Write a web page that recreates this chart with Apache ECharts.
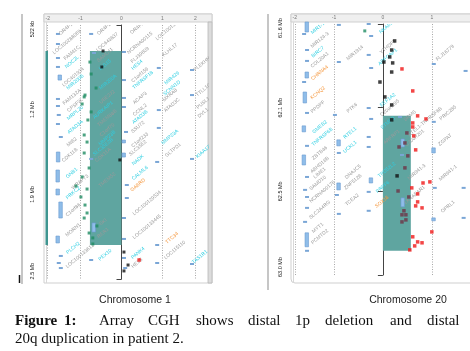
<!DOCTYPE html>
<html><head><meta charset="utf-8">
<script src="https://cdn.jsdelivr.net/npm/echarts@6/dist/echarts.min.js"></script>
<style>html,body{margin:0;padding:0;background:#fff}#c{width:470px;height:351px}</style>
</head><body><div id="c"></div>
<script>
// ---------- axis ticks ----------
const chr1PosTicks = [0.522, 1.194, 1.866, 2.538];
const chr1PosLabels = ['522 kb', '1.2 Mb', '1.9 Mb', '2.5 Mb'];
const chr20PosTicks = [61.6, 62.06, 62.52, 62.98];
const chr20PosLabels = ['61.6 Mb', '62.1 Mb', '62.5 Mb', '63.0 Mb'];
const chr1RatioTicks = [-1.8, -1, 0, 1, 1.8];
const chr1RatioLabels = ['-2', '-1', '0', '1', '2'];
const chr20RatioTicks = [-1.8, -1, 0, 1];
const chr20RatioLabels = ['-2', '-1', '0', '1'];

// ---------- chromosome 1 probes [log2 ratio, Mb] ----------
const chr1Green = [[-0.77,0.816],[-0.74,0.911],[-0.62,1.022],[-0.89,1.078],[-0.91,1.093],[-0.96,1.149],[-0.74,1.212],[-0.82,1.276],[-0.91,1.395],[-0.84,1.451],[-0.91,1.538],[-0.79,1.657],[-0.96,1.728],[-1.11,1.800],[-0.84,1.824],[-0.99,1.887],[-0.89,1.951],[-0.84,2.014],[-0.91,2.054],[-0.60,2.117],[-0.79,2.173],[-0.70,2.212],[-0.70,2.260]];
const chr1Black = [[-0.45,0.728],[-0.48,0.855],[-0.04,1.593],[0.06,2.324],[0.16,2.427],[0.06,2.474]];
const chr1Red = [[0.43,2.387]];
// segments [ratio from, ratio to, Mb start, Mb end]
const chr1Segments = [[-0.77,0,0.728,2.268]];
const chr1Track = [[-1.854,-1.793,0.728,2.268]];
const chr1Cursor = [1.528];
// gene bars [lane, Mb start, Mb end]
const chr1GeneBars = [[-1.55,0.593,0.593],[-1.55,0.673,0.673],[-1.55,0.784,0.784],[-1.55,0.855,0.855],[-1.50,0.919,0.959],[-1.55,1.109,1.109],[-1.55,1.165,1.165],[-1.53,1.236,1.236],[-1.55,1.308,1.308],[-1.48,1.411,1.411],[-1.54,1.530,1.609],[-1.55,1.673,1.768],[-1.55,1.824,1.871],[-1.48,1.927,2.054],[-1.55,2.197,2.252],[-1.48,2.355,2.355],[-1.53,2.411,2.411],[-1.48,2.451,2.451],
 [-0.74,0.593,0.593],[-0.67,0.744,0.744],[-0.74,1.585,1.585],[-0.67,2.093,2.165],[-0.74,2.387,2.387],
 [0.06,0.736,0.736],[0.06,0.959,0.959],[0.06,1.101,1.101],[0.06,1.173,1.173],[0.11,1.371,1.371],[0.06,1.435,1.458],[0.06,1.538,1.570],[0.13,1.792,1.792],[0.13,1.895,1.895],[0.06,2.054,2.054],[0.06,2.220,2.220],[0.06,2.371,2.371],[0.09,2.451,2.451],
 [0.91,0.863,0.863],[0.91,1.197,1.197],[0.91,1.339,1.339],[0.87,1.609,1.609],[0.87,2.268,2.268],[0.87,2.411,2.411],
 [1.72,0.879,0.879],[1.72,1.078,1.078],[1.72,1.585,1.585],[1.72,2.419,2.419]];
// gene labels
const chr1GeneNames = ['OR4F16','LOC100288069','FAM41C','NOC2L','LOC401934','MIR200B','FAM132A','CPSF3L','MRPL20','ATAD3A','MIB2','CDK11B','GNB1','WRAP73','PRKCZ','C1orf86','MORN1','PLCH2','LOC100133612',
 'OR4F29','LOC643837','SAMD11','ISG15','MIR200A','UBE2J2','AURKAIP1','TMEM88B','C1orf70','MMP23B','SLC35E2B','CDK11A','TMEM52','SKI','RER1','PEX10',
 'OR4F5','NCRNA00115','FLJ39609','HES4','C1orf159','TNFRSF18','ACAP3','CCNL2','ATAD3B','SSU72','C1orf233','SLC35E2','NADK','CALML6','GABRD','LOC100129534','LOC100133445','PANK4','HES5',
 'LOC100132062','KLHL17','MIR429','SCNN1D','MXRA8','ATAD3C','MMP23A','GLTPD1','TTC34','LOC115110',
 'PLEKHN1','TTLL10','PUSL1','DVL1','KIAA1751','TAS1R1'];
const chr1GeneLane = [-1.33,-1.33,-1.21,-1.21,-1.18,-1.13,-1.21,-1.13,-1.13,-1.13,-1.21,-1.26,-1.21,-1.01,-1.18,-1.18,-1.18,-1.18,-1.01,
 -0.40,-0.35,-0.40,-0.40,-0.33,-0.35,-0.45,-0.35,-0.35,-0.35,-0.45,-0.45,-0.35,-0.45,-0.45,-0.40,
 0.38,0.45,0.45,0.38,0.45,0.52,0.45,0.45,0.45,0.40,0.45,0.40,0.40,0.45,0.40,0.62,0.62,0.40,0.38,
 1.18,1.18,1.23,1.23,1.18,1.23,1.18,1.26,1.23,1.30,
 1.99,1.99,1.99,1.99,2.04,1.91];
const chr1GeneMb = [0.546,0.657,0.744,0.816,0.935,0.974,1.093,1.157,1.220,1.332,1.451,1.554,1.697,1.768,1.855,1.990,2.149,2.292,2.355,
 0.546,0.657,0.760,0.839,0.974,1.093,1.197,1.260,1.355,1.419,1.490,1.554,1.752,2.085,2.173,2.347,
 0.546,0.665,0.760,0.839,0.919,0.959,1.101,1.197,1.252,1.332,1.435,1.498,1.593,1.697,1.792,1.935,2.125,2.332,2.411,
 0.546,0.720,0.943,1.022,1.078,1.157,1.411,1.514,2.212,2.308,
 0.824,1.038,1.141,1.220,1.514,2.363];
const chr1GeneKind = [0,0,0,1,0,1,0,0,1,1,0,0,1,0,1,0,0,1,0,
 0,0,0,1,1,0,1,0,0,1,1,0,0,0,0,1,
 0,0,0,1,0,1,0,0,1,0,0,0,1,1,2,0,0,1,0,
 0,0,1,1,0,0,1,0,2,0,
 0,0,0,0,1,1];

// ---------- chromosome 20 probes ----------
const chr20Black = [[0.18,61.595],[0.24,61.693],[0.18,61.743],[0.14,61.781],[0.02,61.809],[0.20,61.814],[0.18,61.864],[-0.06,61.919],[0.04,62.001],[0.18,62.045],[0.18,62.127],[0.29,62.435]];
const chr20Green = [[-0.37,61.638]];
const chr20Red = [[0.39,61.847],[0.61,61.968],[0.71,62.105],[0.88,62.122],[0.61,62.144],[0.61,62.166],[0.63,62.215],[0.67,62.292],[0.82,62.474],[0.96,62.468],[0.59,62.501],[0.71,62.534],[0.71,62.578],[0.67,62.600],[0.80,62.611],[1.00,62.743],[0.61,62.770],[0.71,62.798],[0.80,62.803],[0.65,62.820],[0.55,62.842]];
const chr20Gain = [[0.49,62.199],[0.45,62.254],[0.33,62.276],[0.51,62.325],[0.45,62.391],[0.31,62.518],[0.53,62.551],[0.43,62.627],[0.39,62.649],[0.47,62.649],[0.47,62.677],[0.39,62.688]];
const chr20Segments = [[0,0.571,62.105,62.847]];
const chr20Cursor = [62.284];
const chr20GeneBars = [[-1.55,61.589,61.644],[-1.61,61.655,61.655],[-1.55,61.743,61.743],[-1.55,61.803,61.803],[-1.55,61.864,61.897],[-1.61,61.919,61.919],[-1.59,61.974,62.034],[-1.55,62.089,62.089],[-1.61,62.160,62.193],[-1.55,62.270,62.270],[-1.61,62.320,62.375],[-1.55,62.441,62.441],[-1.59,62.512,62.512],[-1.55,62.551,62.551],[-1.55,62.611,62.611],[-1.59,62.688,62.688],[-1.55,62.748,62.825],[-1.55,62.847,62.847],
 [-0.90,61.605,61.605],[-0.90,61.809,61.809],[-0.98,62.100,62.100],[-0.90,62.237,62.270],[-0.90,62.309,62.309],[-0.90,62.474,62.512],[-0.94,62.540,62.540],[-0.90,62.644,62.644],
 [-0.29,61.600,61.600],[-0.24,61.666,61.666],[-0.29,61.770,61.770],[-0.24,61.842,61.842],[-0.29,62.062,62.062],[-0.24,62.122,62.122],[-0.29,62.221,62.221],[-0.29,62.276,62.276],[-0.24,62.446,62.474],[-0.29,62.523,62.523],[-0.29,62.627,62.627],
 [0.35,62.111,62.111],[0.41,62.232,62.276],[0.39,62.320,62.320],[0.41,62.556,62.605],
 [1.04,61.820,61.820],[1.04,62.138,62.138],[1.04,62.281,62.309],[1.06,62.501,62.501],[1.04,62.666,62.682],
 [1.69,61.858,61.858],[1.65,62.501,62.501],[1.65,62.666,62.666]];
const chr20GeneNames = ['MIR1-1','MIR124-3','BIRC7','COL20A1','CHRNA4','KCNQ2','PPDPF','GMEB2','TNFRSF6B','ZBTB46','ABHD16B','LIME1','SAMD10','NCRNA00176','SLC2A4RG','MYT1','PCMTD2',
 'MIR1914','PTK6','RTEL1','UCKL1','DNAJC5','ZNF512B','TCEA2',
 'NKAIN4','YTHDF1','ARFGAP1','EEF1A2','C20orf195','STMN3','ARFRP1','TPD52L2','PRPF6','SOX18',
 'SRMS','RTEL1-TNFRSF6B','C20orf201','MIR941-3','LKAAEAR1',
 'FLJ16779','PRIC285','ZGPAT','MIR941-1','OPRL1'];
const chr20GeneLane = [-1.33,-1.29,-1.33,-1.29,-1.29,-1.33,-1.33,-1.29,-1.24,-1.29,-1.29,-1.29,-1.33,-1.24,-1.29,-1.33,-1.29,
 -0.57,-0.63,-0.67,-0.67,-0.61,-0.61,-0.63,
 0.08,0.10,0.10,0.10,0.14,0.10,0.18,0.08,0.00,-0.02,
 0.55,0.86,0.65,0.69,0.65,
 1.27,1.33,1.27,1.33,1.33];
const chr20GeneMb = [61.622,61.688,61.754,61.798,61.869,61.979,62.056,62.166,62.221,62.309,62.375,62.419,62.474,62.523,62.622,62.721,62.770,
 61.759,62.062,62.199,62.276,62.413,62.468,62.567,
 61.616,61.726,61.781,62.018,62.062,62.144,62.221,62.402,62.496,62.578,
 62.105,62.138,62.226,62.413,62.540,
 61.759,62.089,62.237,62.419,62.605];
const chr20GeneKind = [1,0,1,0,2,2,0,1,1,0,0,0,0,0,0,0,0,
 0,0,1,1,0,0,0,
 1,0,1,1,0,1,0,1,1,2,
 0,0,0,0,0,
 0,0,0,0,0];

// ---------- helpers ----------
const kindColor = ['#9a9a9a', '#2fcfe2', '#f5983f'];
function labelFmt(vals, labels) {
  return function (v) {
    for (let i = 0; i < vals.length; i++) if (Math.abs(v - vals[i]) < 1e-6) return labels[i];
    return '';
  };
}
// y labels: first one pushed below its tick, last one pushed above it
function posLabelFmt(vals, labels) {
  return function (v) {
    for (let i = 0; i < vals.length; i++) if (Math.abs(v - vals[i]) < 1e-6) {
      const k = i === 0 ? 'f' : (i === vals.length - 1 ? 'l' : 'm');
      return '{' + k + '|' + labels[i] + '}';
    }
    return '';
  };
}
function segItem(color, opacity) {
  return function (params, api) {
    const a = api.coord([api.value(0), api.value(2)]);
    const b = api.coord([api.value(1), api.value(3)]);
    return { type: 'rect', shape: { x: a[0], y: a[1], width: b[0] - a[0], height: b[1] - a[1] },
      style: { fill: color, opacity: opacity } };
  };
}
function barItem(params, api) {
  const a = api.coord([api.value(0), api.value(1)]);
  const b = api.coord([api.value(0), api.value(2)]);
  let h = b[1] - a[1];
  const tall = h > 2;
  if (!tall) h = 2;
  return { type: 'rect', shape: { x: a[0] - 2, y: a[1] - (tall ? 0 : 1), width: tall ? 3.5 : 4, height: h },
    style: { fill: tall ? '#8fbde9' : '#7aa6d6', stroke: tall ? '#6a9ad0' : null, lineWidth: 0.6 } };
}
function geneItem(names) {
  return function (params, api) {
    const p = api.coord([api.value(0), api.value(1)]);
    return { type: 'text', x: p[0], y: p[1], rotation: 40 * Math.PI / 180,
      style: { text: names[params.dataIndex], fill: kindColor[api.value(2)],
        font: '5px "Liberation Sans"', align: 'center', verticalAlign: 'middle' } };
  };
}
function cursorItem(extL, extR) {
  return function (params, api) {
    const y = api.coord([0, api.value(0)])[1];
    const cs = params.coordSys;
    return { type: 'line', shape: { x1: cs.x - extL, y1: y, x2: cs.x + cs.width + extR, y2: y },
      style: { stroke: '#4f5cff', lineWidth: 1 } };
  };
}
function geneData(lane, mb, kind) { return lane.map((x, i) => [x, mb[i], kind[i]]); }

function xAxisFor(grid, min, max, ticks, labels) {
  return { gridIndex: grid, type: 'value', position: 'top', min: min, max: max,
    axisLine: { show: false },
    axisTick: { show: false, customValues: ticks },
    axisLabel: { customValues: ticks, formatter: labelFmt(ticks, labels), fontSize: 5, color: '#777', margin: 4, fontFamily: 'Liberation Sans' },
    splitLine: { show: true, lineStyle: { type: [1, 1.5], color: '#a8a8a8', width: 1 } } };
}
function yAxisFor(grid, min, max, ticks, labels, offset) {
  const base = { fontSize: 5.5, color: '#222', fontFamily: 'Liberation Sans' };
  return { gridIndex: grid, type: 'value', inverse: true, min: min, max: max, position: 'left', offset: offset,
    axisLine: { show: true, lineStyle: { color: '#444', width: 1 } },
    axisTick: { show: true, length: 5, customValues: ticks, lineStyle: { color: '#444' } },
    axisLabel: { customValues: ticks, formatter: posLabelFmt(ticks, labels), rotate: 90, margin: 2,
      fontSize: 5.5, color: '#222', fontFamily: 'Liberation Sans',
      rich: { f: Object.assign({ padding: [0, 8, 0, 0] }, base), m: base, l: Object.assign({ padding: [0, 0, 0, 16] }, base) } },
    splitLine: { show: false } };
}
function pts(grid, data, color, size) {
  return { type: 'scatter', xAxisIndex: grid, yAxisIndex: grid, data: data, symbol: 'rect', symbolSize: size,
    itemStyle: { color: color }, z: 4, silent: true };
}
function custom(grid, data, render, z, clip) {
  return { type: 'custom', coordinateSystem: 'cartesian2d', xAxisIndex: grid, yAxisIndex: grid,
    data: data, renderItem: render, z: z, clip: !!clip, silent: true };
}

// ---------- decorations & caption ----------
const serif = '"Liberation Serif", "Times New Roman", serif';
const graphics = [
  { type: 'line', shape: { x1: 22, y1: 14, x2: 22, y2: 284 }, style: { stroke: '#c6c6c6', lineWidth: 2 } },
  { type: 'line', shape: { x1: 19.5, y1: 275, x2: 19.5, y2: 283 }, style: { stroke: '#111', lineWidth: 1.5 } },
  { type: 'rect', shape: { x: 44, y: 14, width: 168, height: 269 }, style: { fill: null, stroke: '#cfcfcf', lineWidth: 1 } },
  { type: 'rect', shape: { x: 44, y: 14, width: 168, height: 8 }, style: { fill: '#efefef', stroke: '#cfcfcf', lineWidth: 1 } },
  { type: 'line', shape: { x1: 46.5, y1: 22, x2: 46.5, y2: 283 }, style: { stroke: '#d8d8d8', lineWidth: 1 } },
  { type: 'rect', shape: { x: 208, y: 22, width: 4, height: 261 }, style: { fill: '#dcdcdc', stroke: '#b8b8b8', lineWidth: 0.8 } },
  { type: 'line', shape: { x1: 268, y1: 14, x2: 268, y2: 290 }, style: { stroke: '#c6c6c6', lineWidth: 2 } },
  { type: 'rect', shape: { x: 291, y: 14, width: 185, height: 269, r: [0, 0, 0, 4] }, style: { fill: null, stroke: '#cfcfcf', lineWidth: 1 } },
  { type: 'rect', shape: { x: 291, y: 14, width: 185, height: 8 }, style: { fill: '#efefef', stroke: '#cfcfcf', lineWidth: 1 } },
  { type: 'line', shape: { x1: 293.5, y1: 22, x2: 293.5, y2: 283 }, style: { stroke: '#d8d8d8', lineWidth: 1 } },
  { type: 'text', x: 135, y: 300, style: { text: 'Chromosome 1', font: '10.5px "Liberation Sans"', fill: '#222', align: 'center', verticalAlign: 'middle' } },
  { type: 'text', x: 408, y: 300, style: { text: 'Chromosome 20', font: '10.5px "Liberation Sans"', fill: '#222', align: 'center', verticalAlign: 'middle' } }
];
const captionWords = [['Figure', 15, 1], ['1:', 64, 1], ['Array', 99, 0], ['CGH', 148, 0], ['shows', 196, 0], ['distal', 248, 0], ['1p', 295, 0], ['deletion', 325, 0], ['and', 390, 0], ['distal', 427, 0]];
captionWords.forEach(w => graphics.push({ type: 'text', x: w[1], y: 321, style: { text: w[0], font: (w[2] ? 'bold ' : '') + '15px ' + serif, fill: '#111', align: 'left', verticalAlign: 'middle' } }));
graphics.push({ type: 'text', x: 15, y: 339, style: { text: '20q duplication in patient 2.', font: '15px ' + serif, fill: '#111', align: 'left', verticalAlign: 'middle' } });

const chart = echarts.init(document.getElementById('c'), null, { renderer: 'canvas' });
chart.setOption({
  animation: false,
  backgroundColor: '#ffffff',
  grid: [
    { left: 44.83, top: 25, width: 163.18, height: 254 },
    { left: 292.35, top: 24, width: 177.87, height: 251 }
  ],
  xAxis: [
    xAxisFor(0, -1.87, 2.11, chr1RatioTicks, chr1RatioLabels),
    xAxisFor(1, -1.85, 1.78, chr20RatioTicks, chr20RatioLabels)
  ],
  yAxis: [
    yAxisFor(0, 0.522, 2.538, chr1PosTicks, chr1PosLabels, 7.8),
    yAxisFor(1, 61.6, 62.98, chr20PosTicks, chr20PosLabels, 7.35)
  ],
  graphic: { elements: graphics },
  series: [
    custom(0, chr1Track, segItem('#3f9590', 1), 2),
    custom(0, chr1Segments, segItem('#5fa5a0', 1), 2),
    custom(0, chr1GeneBars, barItem, 3),
    custom(0, geneData(chr1GeneLane, chr1GeneMb, chr1GeneKind), geneItem(chr1GeneNames), 3, true),
    pts(0, chr1Green, '#1f8c63', 3),
    pts(0, chr1Black, '#111111', 3),
    pts(0, chr1Red, '#f01818', 3.5),
    custom(0, chr1Cursor.map(v => [0, v]), cursorItem(23, 4), 6),

    custom(1, chr20Segments, segItem('#5fa5a0', 1), 2),
    custom(1, chr20GeneBars, barItem, 3),
    custom(1, geneData(chr20GeneLane, chr20GeneMb, chr20GeneKind), geneItem(chr20GeneNames), 3, true),
    pts(1, chr20Green, '#1f8c63', 3),
    pts(1, chr20Black, '#111111', 3.5),
    pts(1, chr20Red, '#f01818', 3.5),
    pts(1, chr20Gain, '#6e3346', 3.5),
    custom(1, chr20Cursor.map(v => [0, v]), cursorItem(24, 2), 6)
  ]
});
</script></body></html>
